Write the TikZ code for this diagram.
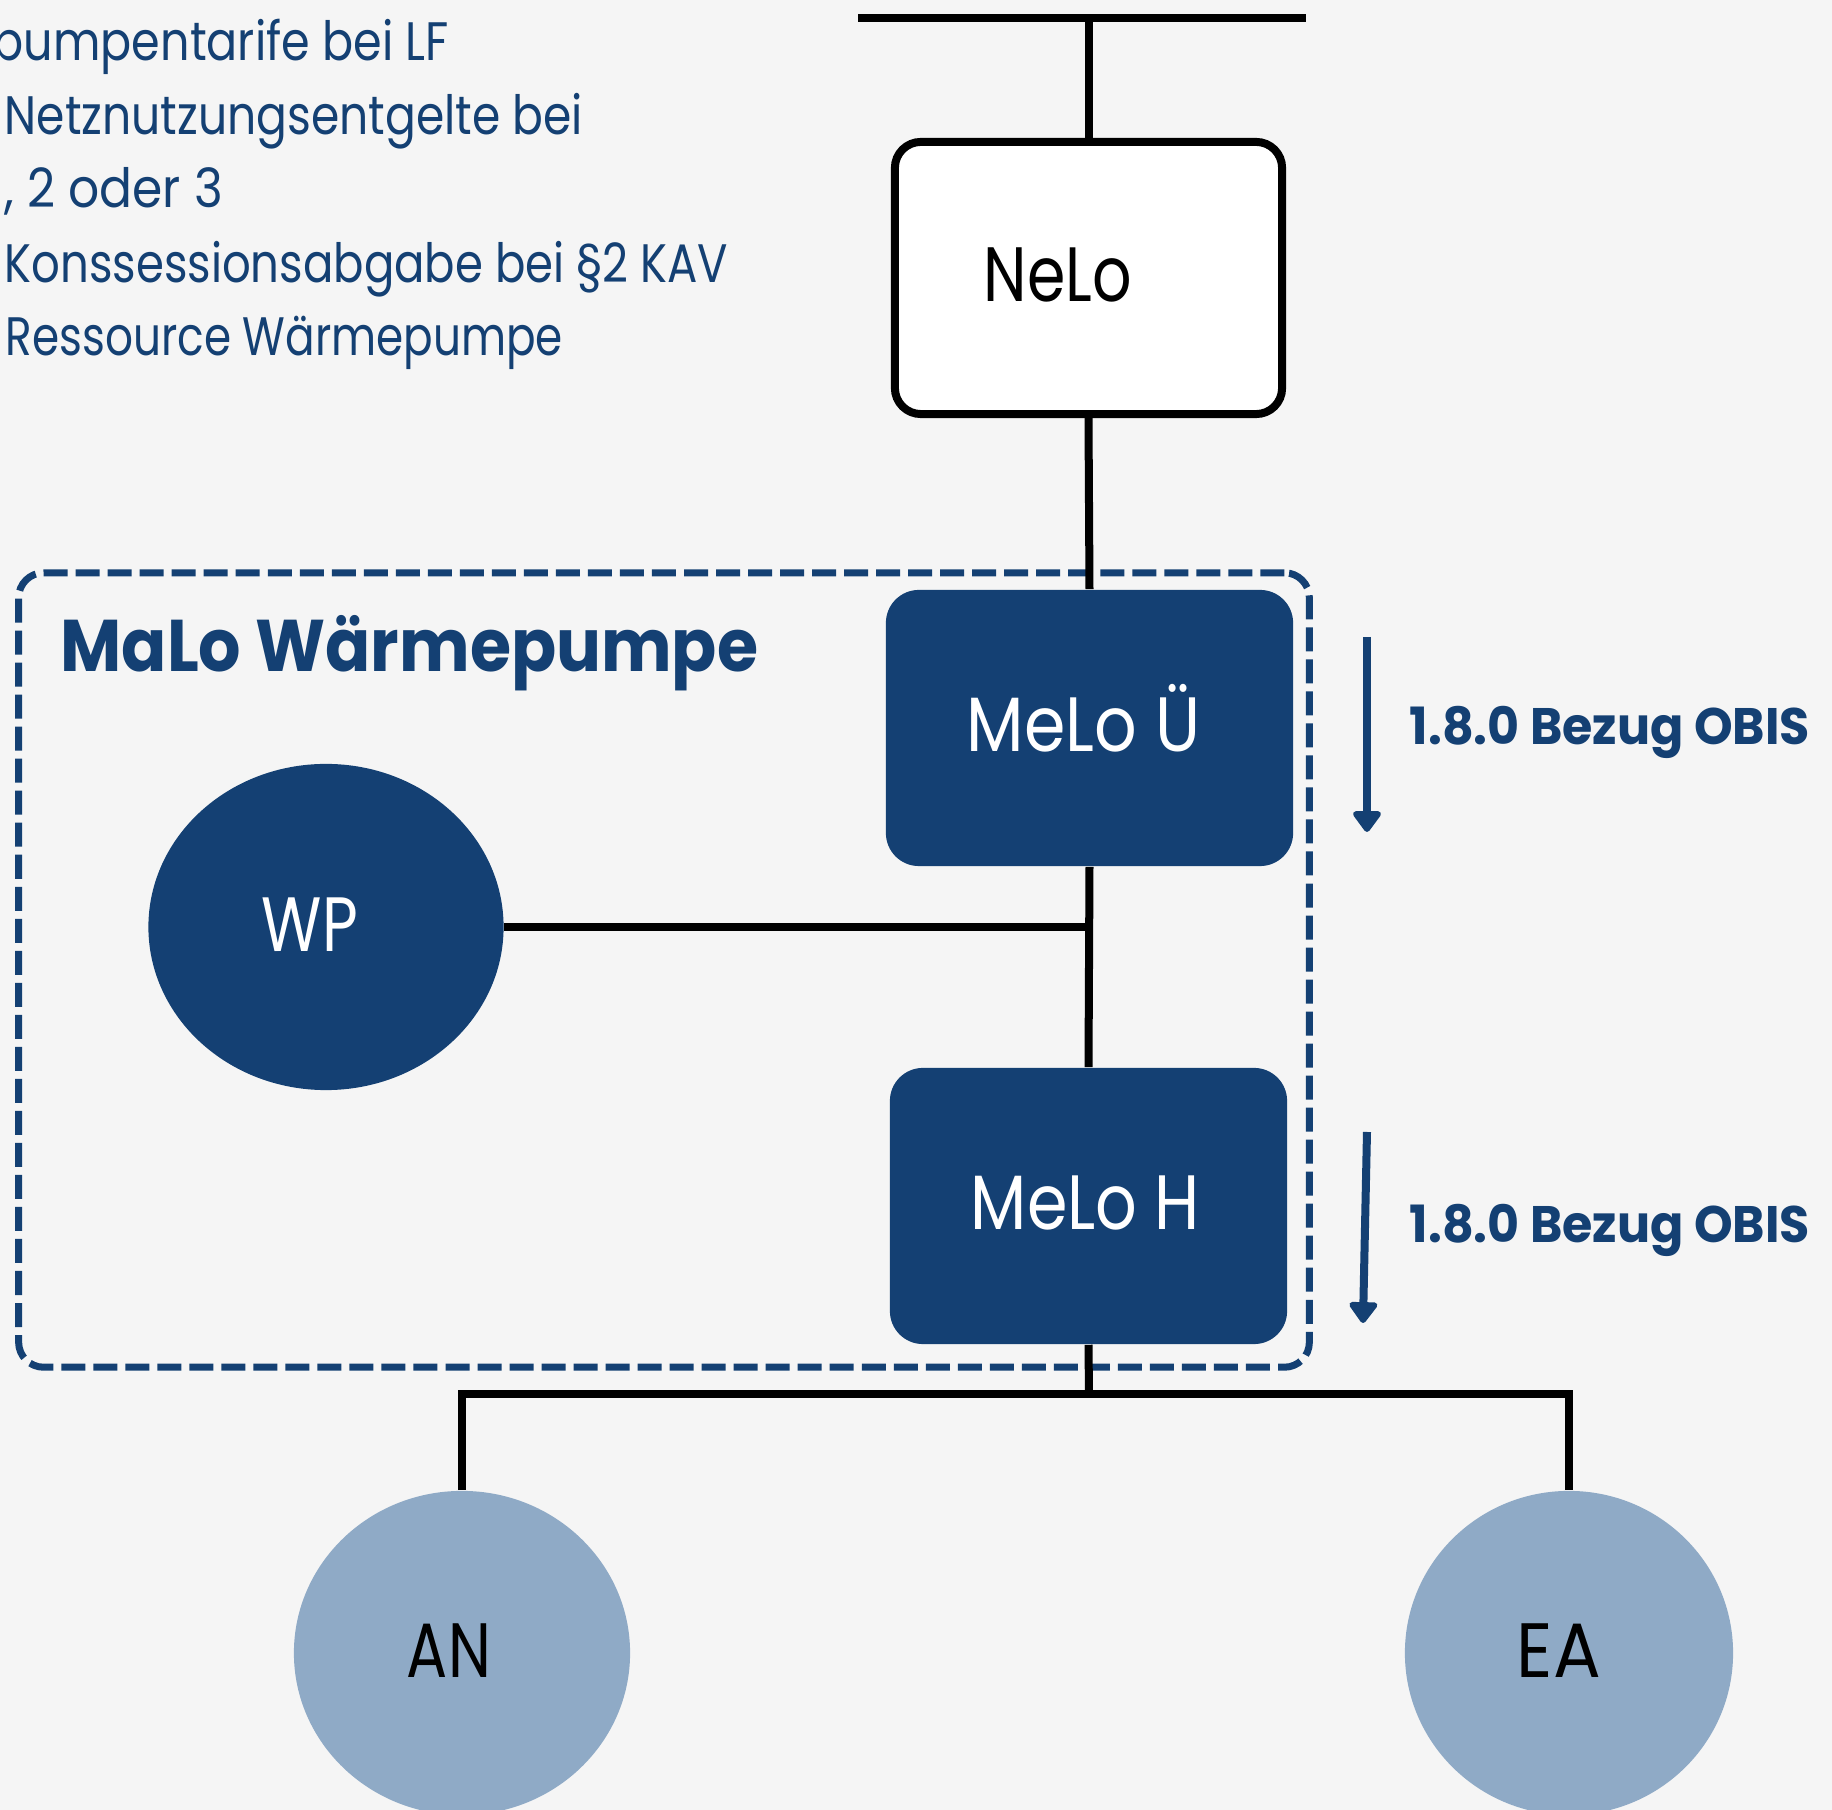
\documentclass[tikz,border=0pt]{standalone}
\usepackage{fontspec}
\setmainfont{Poppins}
\usepackage{graphicx}
\usetikzlibrary{shapes.geometric,arrows.meta}
\definecolor{dblue}{HTML}{144073}
\definecolor{lblue}{HTML}{8FAAC6}
\definecolor{bgc}{HTML}{F5F5F5}
\newcommand{\fitw}[2]{\resizebox{#1}{\height}{#2}}
\begin{document}
\begin{tikzpicture}[x=0.01cm,y=-0.01cm,
  wire/.style={line width=0.08cm, draw=black},
  txt/.style={inner sep=0pt, anchor=base},
  big/.style={font=\fontsize{21.9}{26}\selectfont},
  info/.style={inner sep=0pt, anchor=base west, text=dblue, font=\fontsize{15.4}{18}\selectfont},
  obis/.style={inner sep=0pt, anchor=base west, text=dblue, font=\bfseries\fontsize{14.6}{17}\selectfont},
  melo/.style={fill=dblue, rounded corners=0.33cm, minimum height=2.76cm, inner sep=0pt},
  round/.style={ellipse, inner sep=0pt},
  flow/.style={draw=dblue, line width=0.08cm, -{Triangle[width=0.32cm,length=0.23cm,round]}}
]
\useasboundingbox (0,0) rectangle (1832,1810);
\clip (0,0) rectangle (1832,1810);
\fill[bgc] (0,0) rectangle (1832,1810);

% container
\node[draw=dblue, line width=0.07cm, dash pattern=on 0.24cm off 0.08cm,
      rounded corners=0.25cm, minimum width=12.9cm, minimum height=7.94cm, inner sep=0pt]
      (malo) at (664,970) {};

% shapes
\node[draw=black, line width=0.08cm, fill=white, rounded corners=0.26cm,
      minimum width=3.87cm, minimum height=2.72cm, inner sep=0pt] (nelo) at (1088.5,278) {};
\node[melo, minimum width=4.07cm] (melou) at (1089.5,728) {};
\node[melo, minimum width=3.97cm] (meloh) at (1088.5,1206) {};
\node[round, fill=dblue, minimum width=3.55cm, minimum height=3.26cm] (wp) at (326,927) {};
\node[round, fill=lblue, minimum width=3.36cm, minimum height=3.24cm] (an) at (462,1653) {};
\node[round, fill=lblue, minimum width=3.28cm, minimum height=3.24cm] (ea) at (1569,1653) {};

% coordinates
\coordinate (busL) at (858,18);
\coordinate (busR) at (1306,18);
\coordinate (busM) at (1088.5,18);
\coordinate (jct) at (1089,927);
\coordinate (bbus) at (1089,1394);
\coordinate (a1s) at (1367,637);
\coordinate (a1e) at (1367,832);
\coordinate (a2s) at (1367,1132);
\coordinate (a2e) at (1363,1323);

% connectors
\draw[wire] (busL) -- (busR);
\draw[wire] (busM) -- (nelo.north);
\draw[wire] (nelo.south) -- (melou.north);
\draw[wire] (melou.south) -- (meloh.north);
\draw[wire] (wp.east) -- (jct);
\draw[wire] (meloh.south) -- (bbus);
\draw[wire] (an.north) -- (an.north |- bbus) -- (ea.north |- bbus) -- (ea.north);
\draw[flow] (a1s) -- (a1e);
\draw[flow] (a2s) -- (a2e);

% texts
\node[txt, big, text=black] (tnelo) at (1058,302) {\fitw{1.48cm}{NeLo}};
\node[txt, big, text=white] (tmelou) at (1083.5,752) {\fitw{2.33cm}{MeLo Ü}};
\node[txt, big, text=white] (tmeloh) at (1085.5,1230) {\fitw{2.29cm}{MeLo H}};
\node[txt, big, text=white] (twp) at (310,952) {\fitw{0.96cm}{WP}};
\node[txt, big, text=black] (tan) at (449,1678) {\fitw{0.84cm}{AN}};
\node[txt, big, text=black] (tea) at (1559,1678) {\fitw{0.84cm}{EA}};
\node[inner sep=0pt, anchor=base west, text=dblue, font=\bfseries\fontsize{20.8}{24}\selectfont]
     (tmalo) at (60,672) {\fitw{6.97cm}{MaLo Wärmepumpe}};
\node[obis] (obis1) at (1409,745) {\fitw{4.00cm}{1.8.0 Bezug OBIS}};
\node[obis] (obis2) at (1409,1243) {\fitw{4.00cm}{1.8.0 Bezug OBIS}};

\node[info] (i1) at (-8,61) {\fitw{4.56cm}{pumpentarife bei LF}};
\node[info] (i2) at (4,135) {\fitw{5.78cm}{Netznutzungsentgelte bei}};
\node[info] (i3) at (4,208) {\fitw{2.18cm}{, 2 oder 3}};
\node[info] (i4) at (4,283) {\fitw{7.23cm}{Konssessionsabgabe bei §2 KAV}};
\node[info] (i5) at (5,356) {\fitw{5.57cm}{Ressource Wärmepumpe}};
\end{tikzpicture}
\end{document}
